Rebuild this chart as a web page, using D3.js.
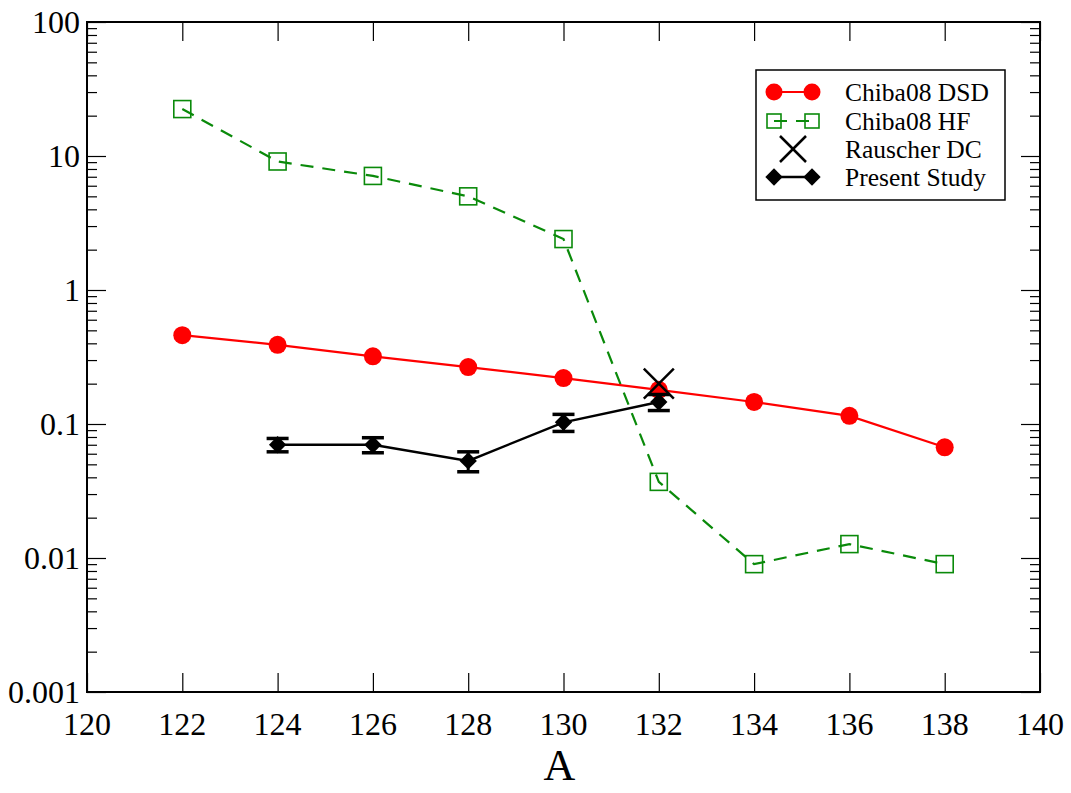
<!DOCTYPE html>
<html>
<head>
<meta charset="utf-8">
<script src="https://cdn.jsdelivr.net/npm/d3@7"></script>
<style>
  body { margin: 0; background: #fff; }
  svg text { font-family: "Liberation Serif", "DejaVu Serif", serif; }
</style>
</head>
<body>
<div id="chart"></div>
<script>
// valores
const massNumbers = [122, 124, 126, 128, 130, 132, 134, 136, 138];
const dsdValues = [0.46, 0.39, 0.32, 0.266, 0.22, 0.18, 0.146, 0.115, 0.067];
const hfValues = [22.4, 9.1, 7.1, 5.0, 2.4, 0.037, 0.009, 0.0127, 0.009];

const presentA = [124, 126, 128, 130, 132];
const presentValues = [0.070, 0.070, 0.053, 0.103, 0.146];
const presentErrors = [0.008, 0.009, 0.009, 0.015, 0.02];

const rauscherA = [132];
const rauscherValues = [0.2];

const xTicks = [120, 122, 124, 126, 128, 130, 132, 134, 136, 138, 140];
const yTicks = [0.001, 0.01, 0.1, 1, 10, 100];
const yTickLabels = ['0.001', '0.01', '0.1', '1', '10', '100'];

const legendLabels = ['Chiba08 DSD', 'Chiba08 HF', 'Rauscher DC', 'Present Study'];

const RED = '#ff0000';
const GREEN = '#0a8a0a';

const width = 1071, height = 793;
const margin = { top: 22, right: 31, bottom: 101, left: 87 };
const innerW = width - margin.left - margin.right;
const innerH = height - margin.top - margin.bottom;

const svg = d3.select('#chart').append('svg')
    .attr('width', width)
    .attr('height', height);

const g = svg.append('g').attr('transform', `translate(${margin.left},${margin.top})`);

const x = d3.scaleLinear().domain([120, 140]).range([0, innerW]);
const y = d3.scaleLog().domain([0.001, 100]).range([innerH, 0]);

// eixos com ticks para dentro
const minorTicks = [];
for (let e = -3; e < 2; e++) {
    for (let k = 2; k <= 9; k++) minorTicks.push(k * Math.pow(10, e));
}

g.append('g')
    .call(d3.axisRight(y).tickValues(minorTicks).tickSize(10).tickFormat(''))
    .call(a => a.select('.domain').remove());
g.append('g')
    .attr('transform', `translate(${innerW},0)`)
    .call(d3.axisLeft(y).tickValues(minorTicks).tickSize(10).tickFormat(''))
    .call(a => a.select('.domain').remove());

g.append('g')
    .call(d3.axisRight(y).tickValues(yTicks).tickSize(19).tickFormat(''))
    .call(a => a.select('.domain').remove());
g.append('g')
    .attr('transform', `translate(${innerW},0)`)
    .call(d3.axisLeft(y).tickValues(yTicks).tickSize(19).tickFormat(''))
    .call(a => a.select('.domain').remove());

g.append('g')
    .attr('transform', `translate(0,${innerH})`)
    .call(d3.axisTop(x).tickValues(xTicks).tickSize(19).tickFormat(''))
    .call(a => a.select('.domain').remove());
g.append('g')
    .call(d3.axisBottom(x).tickValues(xTicks).tickSize(19).tickFormat(''))
    .call(a => a.select('.domain').remove());

g.selectAll('.tick line').attr('stroke', '#000').attr('stroke-width', 1.2);

g.append('rect')
    .attr('width', innerW).attr('height', innerH)
    .attr('fill', 'none').attr('stroke', '#000').attr('stroke-width', 2);

// rótulos dos ticks
g.selectAll('.ylab').data(yTicks).enter().append('text')
    .attr('x', -7)
    .attr('y', d => y(d))
    .attr('dy', '0.35em')
    .attr('text-anchor', 'end')
    .attr('font-size', 32)
    .text((d, i) => yTickLabels[i]);

g.selectAll('.xlab').data(xTicks).enter().append('text')
    .attr('x', d => x(d))
    .attr('y', innerH + 43)
    .attr('text-anchor', 'middle')
    .attr('font-size', 32)
    .text(d => d);

svg.append('text')
    .attr('x', margin.left + x(130) - 4)
    .attr('y', 780)
    .attr('text-anchor', 'middle')
    .attr('font-size', 44)
    .text('A');

// Chiba08 HF
g.append('path')
    .datum(massNumbers.map((a, i) => [a, hfValues[i]]))
    .attr('fill', 'none')
    .attr('stroke', GREEN)
    .attr('stroke-width', 2.2)
    .attr('stroke-dasharray', '13,9')
    .attr('d', d3.line().x(d => x(d[0])).y(d => y(d[1])));

g.selectAll('.hf').data(massNumbers).enter().append('rect')
    .attr('x', d => x(d) - 8.5)
    .attr('y', (d, i) => y(hfValues[i]) - 8.5)
    .attr('width', 17).attr('height', 17)
    .attr('fill', 'none')
    .attr('stroke', GREEN)
    .attr('stroke-width', 1.6);

// Chiba08 DSD
g.append('path')
    .datum(massNumbers.map((a, i) => [a, dsdValues[i]]))
    .attr('fill', 'none')
    .attr('stroke', RED)
    .attr('stroke-width', 2.2)
    .attr('d', d3.line().x(d => x(d[0])).y(d => y(d[1])));

g.selectAll('.dsd').data(massNumbers).enter().append('circle')
    .attr('cx', d => x(d))
    .attr('cy', (d, i) => y(dsdValues[i]))
    .attr('r', 9)
    .attr('fill', RED);

// Present Study
g.append('path')
    .datum(presentA.map((a, i) => [a, presentValues[i]]))
    .attr('fill', 'none')
    .attr('stroke', '#000')
    .attr('stroke-width', 2.4)
    .attr('d', d3.line().x(d => x(d[0])).y(d => y(d[1])));

const err = g.append('g');
presentA.forEach((a, i) => {
    const lo = y(presentValues[i] - presentErrors[i]);
    const hi = y(presentValues[i] + presentErrors[i]);
    const cx = x(a);
    err.append('line').attr('x1', cx).attr('x2', cx).attr('y1', lo).attr('y2', hi)
        .attr('stroke', '#000').attr('stroke-width', 3);
    [lo, hi].forEach(v => err.append('line')
        .attr('x1', cx - 11).attr('x2', cx + 11).attr('y1', v).attr('y2', v)
        .attr('stroke', '#000').attr('stroke-width', 3.5));
});

const diamond = d3.symbol().type(d3.symbolSquare).size(150);
g.selectAll('.ps').data(presentA).enter().append('path')
    .attr('d', diamond)
    .attr('transform', (d, i) => `translate(${x(d)},${y(presentValues[i])}) rotate(45)`)
    .attr('fill', '#000');

// Rauscher DC
const cross = (sel, cx, cy, s) => {
    sel.append('line').attr('x1', cx - s).attr('x2', cx + s).attr('y1', cy - s).attr('y2', cy + s)
        .attr('stroke', '#000').attr('stroke-width', 2.5);
    sel.append('line').attr('x1', cx - s).attr('x2', cx + s).attr('y1', cy + s).attr('y2', cy - s)
        .attr('stroke', '#000').attr('stroke-width', 2.5);
};
rauscherA.forEach((a, i) => cross(g, x(a), y(rauscherValues[i]), 15));

// legenda
const leg = svg.append('g').attr('transform', 'translate(756,70)');
leg.append('rect')
    .attr('width', 249).attr('height', 130)
    .attr('fill', '#fff').attr('stroke', '#000').attr('stroke-width', 1.5);

const rowY = [22, 51, 79, 107];
const x1 = 18, x2 = 56;

leg.append('line').attr('x1', x1).attr('x2', x2).attr('y1', rowY[0]).attr('y2', rowY[0])
    .attr('stroke', RED).attr('stroke-width', 2.2);
[x1, x2].forEach(px => leg.append('circle').attr('cx', px).attr('cy', rowY[0]).attr('r', 8.5).attr('fill', RED));

leg.append('line').attr('x1', x1).attr('x2', x2).attr('y1', rowY[1]).attr('y2', rowY[1])
    .attr('stroke', GREEN).attr('stroke-width', 2.2).attr('stroke-dasharray', '13,9');
[x1, x2].forEach(px => leg.append('rect').attr('x', px - 7).attr('y', rowY[1] - 7)
    .attr('width', 14).attr('height', 14).attr('fill', 'none').attr('stroke', GREEN).attr('stroke-width', 1.6));

cross(leg, (x1 + x2) / 2, rowY[2], 13);

leg.append('line').attr('x1', x1).attr('x2', x2).attr('y1', rowY[3]).attr('y2', rowY[3])
    .attr('stroke', '#000').attr('stroke-width', 2.4);
[x1, x2].forEach(px => leg.append('path').attr('d', diamond)
    .attr('transform', `translate(${px},${rowY[3]}) rotate(45)`).attr('fill', '#000'));

leg.selectAll('.lt').data(legendLabels).enter().append('text')
    .attr('x', 89)
    .attr('y', (d, i) => rowY[i])
    .attr('dy', '0.35em')
    .attr('font-size', 25.5)
    .text(d => d);
</script>
</body>
</html>
